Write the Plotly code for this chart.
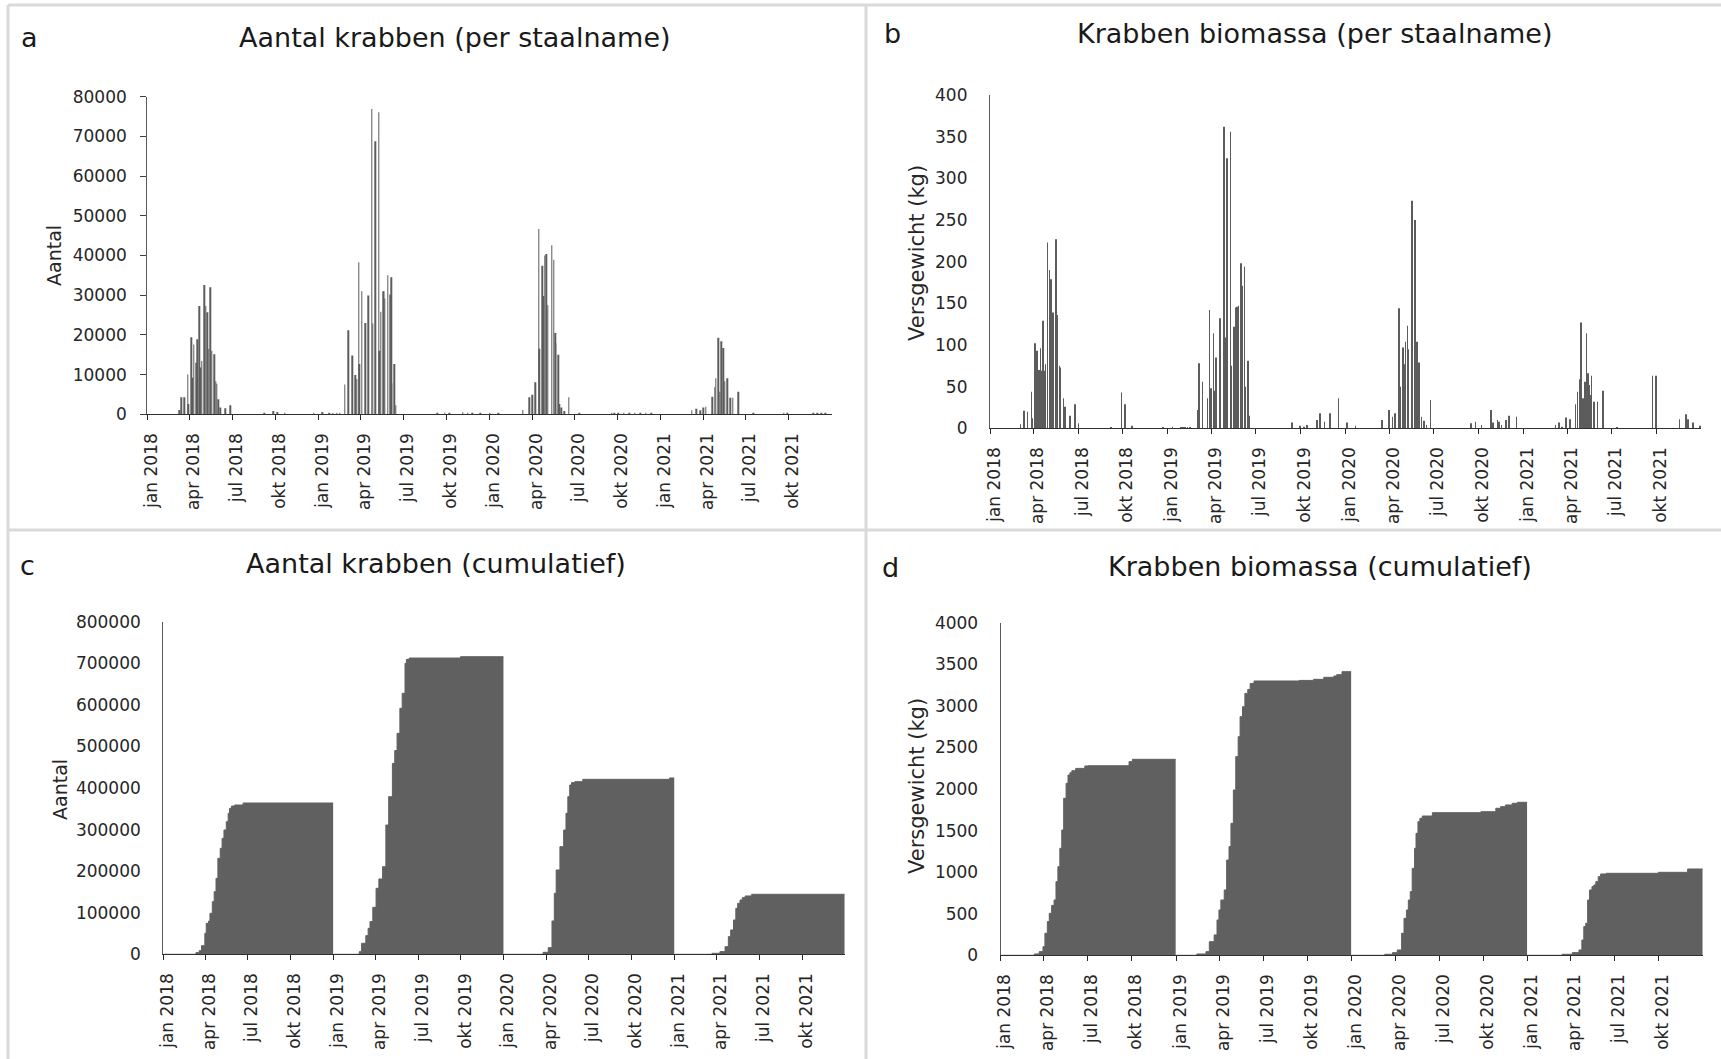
import plotly.graph_objects as go

# ---------------- data ----------------
TICK_DATES = ["2018-01-01", "2018-04-01", "2018-07-01", "2018-10-01",
              "2019-01-01", "2019-04-01", "2019-07-01", "2019-10-01",
              "2020-01-01", "2020-04-01", "2020-07-01", "2020-10-01",
              "2021-01-01", "2021-04-01", "2021-07-01", "2021-10-01"]
TICK_LABELS = ["jan 2018", "apr 2018", "jul 2018", "okt 2018",
               "jan 2019", "apr 2019", "jul 2019", "okt 2019",
               "jan 2020", "apr 2020", "jul 2020", "okt 2020",
               "jan 2021", "apr 2021", "jul 2021", "okt 2021"]

# panel a: number of crabs per sampling
A_DATES = ["2018-03-10", "2018-03-14", "2018-03-21", "2018-03-28", "2018-03-30", "2018-04-05", "2018-04-07",
           "2018-04-10", "2018-04-15", "2018-04-18", "2018-04-22", "2018-04-24", "2018-04-27", "2018-05-02",
           "2018-05-06", "2018-05-09", "2018-05-12", "2018-05-16", "2018-05-19", "2018-05-24", "2018-05-27",
           "2018-05-29", "2018-06-01", "2018-06-06", "2018-06-17", "2018-06-27", "2018-09-08", "2018-09-27",
           "2018-10-06", "2018-10-21", "2018-12-22",
           "2019-01-10", "2019-01-24", "2019-02-01", "2019-02-09", "2019-02-16", "2019-02-26", "2019-03-06",
           "2019-03-14", "2019-03-21", "2019-03-24", "2019-03-28", "2019-03-30", "2019-04-04", "2019-04-11",
           "2019-04-17", "2019-04-25", "2019-04-27", "2019-05-02", "2019-05-10", "2019-05-11", "2019-05-14",
           "2019-05-19", "2019-05-21", "2019-05-23", "2019-05-29", "2019-06-03", "2019-06-06", "2019-06-07",
           "2019-06-12", "2019-06-15", "2019-09-12", "2019-09-28", "2019-10-08", "2019-11-05", "2019-11-16",
           "2019-11-26", "2019-12-12",
           "2020-01-02", "2020-01-20", "2020-03-12", "2020-03-26", "2020-04-02", "2020-04-08", "2020-04-15",
           "2020-04-17", "2020-04-23", "2020-04-25", "2020-04-28", "2020-05-02", "2020-05-05", "2020-05-13",
           "2020-05-17", "2020-05-20", "2020-05-22", "2020-05-27", "2020-05-29", "2020-06-03", "2020-06-09",
           "2020-06-18", "2020-07-11", "2020-09-18", "2020-09-23", "2020-10-02", "2020-10-14", "2020-10-25",
           "2020-11-06", "2020-11-18", "2020-11-30", "2020-12-12",
           "2021-03-08", "2021-03-17", "2021-03-26", "2021-04-01", "2021-04-07", "2021-04-20", "2021-04-26",
           "2021-04-28", "2021-05-03", "2021-05-07", "2021-05-10", "2021-05-14", "2021-05-17", "2021-05-22",
           "2021-05-29", "2021-06-03", "2021-06-15", "2021-07-17", "2021-09-20", "2021-09-27", "2021-11-22",
           "2021-11-30", "2021-12-09", "2021-12-18"]
A_COUNTS = [1100, 4300, 4300, 10000, 2600, 19400, 9200,
            17600, 13000, 18900, 27300, 11800, 13400, 32600,
            27300, 25700, 16500, 32000, 16000, 15100, 8300,
            7700, 3800, 1700, 1500, 2300, 300, 800,
            600, 200, 300,
            600, 400, 400, 400, 400, 7500, 21200,
            14800, 9900, 8900, 38300, 12700, 31000, 23000,
            29900, 76900, 22900, 68800, 76100, 16000, 25800,
            31000, 31000, 29200, 35000, 30200, 34500, 7800,
            12700, 2300, 200, 200, 300, 500, 300,
            300, 300,
            300, 300, 1100, 4300, 4900, 8100, 46700,
            16500, 37400, 29800, 40000, 40400, 27500, 42600,
            38900, 20500, 17900, 15000, 2600, 1700, 800,
            4300, 200, 300, 300, 400, 400, 400,
            400, 300, 300, 200,
            1000, 1400, 1000, 1700, 1900, 4400, 6800,
            9100, 19300, 5700, 18400, 16700, 8300, 9100,
            4200, 4200, 5700, 300, 300, 300, 300,
            300, 300, 300]

# panel b: crab biomass per sampling (kg)
B_DATES = ["2018-03-05", "2018-03-12", "2018-03-19", "2018-03-27", "2018-03-29", "2018-04-03", "2018-04-05",
           "2018-04-07", "2018-04-12", "2018-04-15", "2018-04-17", "2018-04-20", "2018-04-22", "2018-04-25",
           "2018-04-29", "2018-05-03", "2018-05-06", "2018-05-09", "2018-05-11", "2018-05-16", "2018-05-17",
           "2018-05-20", "2018-05-24", "2018-05-26", "2018-06-01", "2018-06-04", "2018-06-15", "2018-06-25",
           "2018-07-02", "2018-09-07", "2018-09-28", "2018-10-06", "2018-10-20", "2018-12-23",
           "2019-01-11", "2019-01-28", "2019-02-02", "2019-02-06", "2019-02-11", "2019-02-16", "2019-03-03",
           "2019-03-07", "2019-03-14", "2019-03-24", "2019-03-28", "2019-03-31", "2019-04-05", "2019-04-07",
           "2019-04-11", "2019-04-18", "2019-04-27", "2019-04-29", "2019-05-03", "2019-05-10", "2019-05-12",
           "2019-05-17", "2019-05-21", "2019-05-24", "2019-05-27", "2019-06-01", "2019-06-03", "2019-06-08",
           "2019-06-10", "2019-06-15", "2019-06-17", "2019-09-14", "2019-09-30", "2019-10-08", "2019-10-14",
           "2019-11-04", "2019-11-10", "2019-11-19", "2019-12-01", "2019-12-18",
           "2020-01-05", "2020-01-22", "2020-03-17", "2020-03-31", "2020-04-07", "2020-04-12", "2020-04-21",
           "2020-04-23", "2020-04-29", "2020-05-01", "2020-05-04", "2020-05-08", "2020-05-10", "2020-05-17",
           "2020-05-23", "2020-05-25", "2020-05-28", "2020-05-31", "2020-06-06", "2020-06-11", "2020-06-16",
           "2020-06-24", "2020-09-16", "2020-09-25", "2020-10-07", "2020-10-26", "2020-10-31", "2020-11-09",
           "2020-11-12", "2020-11-17", "2020-11-26", "2020-12-03", "2020-12-18",
           "2021-03-08", "2021-03-15", "2021-03-21", "2021-03-29", "2021-04-07", "2021-04-18", "2021-04-22",
           "2021-04-27", "2021-04-29", "2021-05-03", "2021-05-08", "2021-05-11", "2021-05-14", "2021-05-17",
           "2021-05-19", "2021-05-21", "2021-05-26", "2021-06-02", "2021-06-13", "2021-07-13", "2021-09-23",
           "2021-10-01", "2021-11-18", "2021-12-01", "2021-12-05", "2021-12-15", "2021-12-30"]
B_KG = [5, 21, 20, 44, 12, 102, 48,
        93, 70, 96, 69, 129, 69, 77,
        223, 190, 179, 113, 139, 227, 145,
        136, 75, 73, 36, 26, 15, 29,
        6, 1, 43, 29, 3, 1,
        2, 1, 1, 1, 1, 1, 22,
        78, 56, 36, 142, 48, 114, 45,
        85, 132, 362, 109, 324, 356, 75,
        122, 145, 146, 147, 198, 171, 194,
        50, 81, 15, 7, 3, 2, 4,
        10, 18, 8, 18, 36,
        7, 3, 10, 22, 14, 18, 144,
        50, 97, 77, 104, 123, 95, 273,
        250, 90, 104, 79, 14, 9, 4,
        34, 6, 8, 4, 22, 7, 10,
        8, 4, 10, 15, 14,
        4, 7, 2, 13, 11, 29, 44,
        59, 127, 36, 56, 114, 66, 52,
        40, 63, 32, 32, 45, 1, 63,
        63, 11, 17, 11, 7, 3]

# panel c: cumulative number of crabs (per year)
C_DATES = ["2018-03-12", "2018-03-19", "2018-03-24", "2018-03-31", "2018-04-03", "2018-04-08", "2018-04-11",
           "2018-04-16", "2018-04-20", "2018-04-24", "2018-04-28", "2018-05-03", "2018-05-07", "2018-05-11",
           "2018-05-16", "2018-05-20", "2018-05-23", "2018-05-27", "2018-06-03", "2018-06-21",
           "2019-02-25", "2019-03-02", "2019-03-11", "2019-03-16", "2019-03-20", "2019-03-26", "2019-04-02",
           "2019-04-08", "2019-04-16", "2019-04-23", "2019-04-29", "2019-05-07", "2019-05-12", "2019-05-17",
           "2019-05-23", "2019-05-28", "2019-06-03", "2019-06-06", "2019-06-12", "2019-09-30",
           "2020-03-25", "2020-04-05", "2020-04-13", "2020-04-18", "2020-04-22", "2020-04-30", "2020-05-08",
           "2020-05-13", "2020-05-17", "2020-05-21", "2020-05-25", "2020-06-01", "2020-06-18", "2020-12-21",
           "2021-03-22", "2021-04-08", "2021-04-19", "2021-04-26", "2021-05-01", "2021-05-07", "2021-05-12",
           "2021-05-16", "2021-05-21", "2021-05-26", "2021-06-01", "2021-06-15"]
C_CUM = [4000, 8800, 20800, 50500, 74500, 80000, 98600,
         126600, 150700, 182800, 230900, 254900, 279000, 299000,
         319000, 339100, 351100, 356700, 359100, 363900,
         6400, 26500, 44900, 62500, 78600, 113000, 158700,
         181200, 210800, 311000, 379200, 459300, 490000, 531500,
         591600, 627700, 699800, 709400, 712600, 715800,
         4800, 16000, 80200, 146700, 202800, 258900, 299000,
         339100, 379200, 407200, 413000, 415200, 420800, 424100,
         2400, 6400, 18400, 42500, 58500, 82600, 110600,
         122600, 130700, 136300, 140300, 144300]

# panel d: cumulative crab biomass (kg, per year)
D_DATES = ["2018-03-12", "2018-03-22", "2018-03-30", "2018-04-03", "2018-04-08", "2018-04-12", "2018-04-17",
           "2018-04-22", "2018-04-26", "2018-04-30", "2018-05-04", "2018-05-08", "2018-05-12", "2018-05-17",
           "2018-05-21", "2018-05-25", "2018-05-29", "2018-06-06", "2018-06-25", "2018-07-02", "2018-09-25",
           "2018-10-02",
           "2019-02-13", "2019-03-04", "2019-03-11", "2019-03-21", "2019-03-27", "2019-03-31", "2019-04-04",
           "2019-04-11", "2019-04-16", "2019-04-21", "2019-04-25", "2019-04-30", "2019-05-05", "2019-05-10",
           "2019-05-14", "2019-05-19", "2019-05-24", "2019-05-30", "2019-06-04", "2019-06-12", "2019-09-14",
           "2019-10-14", "2019-11-04", "2019-11-25", "2019-12-01", "2019-12-12",
           "2020-03-10", "2020-03-26", "2020-04-05", "2020-04-14", "2020-04-19", "2020-04-24", "2020-04-28",
           "2020-05-02", "2020-05-06", "2020-05-11", "2020-05-14", "2020-05-18", "2020-05-22", "2020-05-27",
           "2020-06-17", "2020-09-26", "2020-10-27", "2020-11-06", "2020-11-16", "2020-11-30", "2020-12-11",
           "2021-03-14", "2021-04-04", "2021-04-18", "2021-04-24", "2021-04-28", "2021-05-02", "2021-05-06",
           "2021-05-10", "2021-05-15", "2021-05-19", "2021-05-23", "2021-05-28", "2021-06-02", "2021-06-14",
           "2021-09-30", "2021-11-30"]
D_CUM = [16, 44, 104, 265, 405, 505, 600,
         665, 886, 1066, 1287, 1507, 1888, 2068,
         2168, 2196, 2220, 2248, 2277, 2280, 2329,
         2357,
         16, 44, 164, 245, 425, 545, 665,
         786, 1146, 1307, 1587, 1988, 2389, 2629,
         2870, 2990, 3150, 3198, 3270, 3299, 3306,
         3319, 3343, 3359, 3375, 3411,
         12, 32, 64, 265, 445, 545, 665,
         766, 1046, 1287, 1467, 1607, 1647, 1675,
         1715, 1727, 1768, 1788, 1808, 1828, 1840,
         12, 32, 64, 184, 345, 385, 665,
         786, 826, 846, 886, 946, 978, 986,
         998, 1038]

# ---------------- styling ----------------
W, H = 1721, 1059
FONT = "DejaVu Sans"
BAR_COLOR = "#5c5c5c"
FILL_COLOR = "#606060"
AXIS_COLOR = "#404040"
TEXT_COLOR = "#262626"
BORDER = "#dadada"
DAY_MS = 86400000


def px_x(a, b):
    return [a / W, b / W]


def px_y(top, bottom):
    return [1 - bottom / H, 1 - top / H]


fig = go.Figure()

# per-sampling bars
fig.add_trace(go.Bar(x=A_DATES, y=A_COUNTS, width=1.3 * DAY_MS, marker=dict(color=BAR_COLOR, line=dict(width=0)),
                     xaxis="x", yaxis="y", hoverinfo="x+y"))
fig.add_trace(go.Bar(x=B_DATES, y=B_KG, width=1.3 * DAY_MS, marker=dict(color=BAR_COLOR, line=dict(width=0)),
                     xaxis="x2", yaxis="y2", hoverinfo="x+y"))


def add_cumulative(dates, values, xa, ya):
    years = sorted(set(d[:4] for d in dates))
    for yr in years:
        xs = [d for d in dates if d[:4] == yr]
        vs = [v for d, v in zip(dates, values) if d[:4] == yr]
        fig.add_trace(go.Scatter(
            x=[yr + "-01-01"] + xs + [yr + "-12-31"],
            y=[0] + vs + [vs[-1]],
            mode="lines", line=dict(shape="hv", color=FILL_COLOR, width=1),
            fill="tozeroy", fillcolor=FILL_COLOR,
            xaxis=xa, yaxis=ya, hoverinfo="x+y"))


add_cumulative(C_DATES, C_CUM, "x3", "y3")
add_cumulative(D_DATES, D_CUM, "x4", "y4")

xcommon = dict(type="date", range=["2018-01-01", "2022-01-01"], tickmode="array",
               tickvals=TICK_DATES, ticktext=TICK_LABELS, tickangle=-90,
               ticks="outside", ticklen=5, tickwidth=1, tickcolor="#262626",
               showline=True, linecolor="#303030", linewidth=1.2,
               showgrid=False, zeroline=False, ticklabelstandoff=6, ticklabelshift=4,
               automargin=False,
               tickfont=dict(family=FONT, size=17, color=TEXT_COLOR), fixedrange=True)
ycommon = dict(showline=True, linecolor="#5a5a5a", linewidth=1.2, showgrid=False, zeroline=False,
               tickfont=dict(family=FONT, size=17, color=TEXT_COLOR), tickmode="linear",
               tickformat="d", automargin=False, fixedrange=True)

fig.update_layout(
    width=W, height=H, margin=dict(l=0, r=0, t=0, b=0, autoexpand=False),
    paper_bgcolor="white", plot_bgcolor="white", showlegend=False, barmode="overlay",
    xaxis=dict(xcommon, domain=px_x(147.3, 832), anchor="y"),
    yaxis=dict(ycommon, domain=px_y(96.7, 414.3), anchor="x", range=[0, 80000], dtick=10000,
               ticks="outside", ticklen=6, tickcolor=AXIS_COLOR, ticklabelstandoff=10),
    xaxis2=dict(xcommon, domain=px_x(990, 1701), anchor="y2"),
    yaxis2=dict(ycommon, domain=px_y(95, 428.3), anchor="x2", range=[0, 400], dtick=50,
                ticks="", ticklabelstandoff=18),
    xaxis3=dict(xcommon, domain=px_x(163.3, 845), anchor="y3"),
    yaxis3=dict(ycommon, domain=px_y(621.7, 954.3), anchor="x3", range=[0, 800000], dtick=100000,
                ticks="", ticklabelstandoff=18),
    xaxis4=dict(xcommon, domain=px_x(1000.7, 1703), anchor="y4"),
    yaxis4=dict(ycommon, domain=px_y(622.7, 955.3), anchor="x4", range=[0, 4000], dtick=500,
                ticks="", ticklabelstandoff=18),
)

# titles, panel letters, axis titles
texts = [
    ("Aantal krabben (per staalname)", 455, 37, 27, 0),
    ("Krabben biomassa (per staalname)", 1315, 34, 27, 0),
    ("Aantal krabben (cumulatief)", 436, 563, 27, 0),
    ("Krabben biomassa (cumulatief)", 1320, 566, 27, 0),
    ("a", 29, 37, 27, 0), ("b", 893, 34, 27, 0), ("c", 27, 565, 27, 0), ("d", 890, 567, 27, 0),
    ("Aantal", 54, 256, 19, -90), ("Versgewicht (kg)", 917, 253, 21, -90),
    ("Aantal", 60, 790, 19, -90), ("Versgewicht (kg)", 917, 786, 21, -90),
]
for t, x, y, s, ang in texts:
    fig.add_annotation(text=t, x=x / W, y=1 - y / H, xref="paper", yref="paper",
                       xanchor="center", yanchor="middle", showarrow=False, textangle=ang,
                       font=dict(family=FONT, size=s, color="#1a1a1a" if s > 22 else TEXT_COLOR))

# panel borders
lines = [
    (8, 5, W, 5),
    (8, 5, 8, H), (866, 5, 866, H),
    (8, 530, W, 530),
]
for x0, y0, x1, y1 in lines:
    fig.add_shape(type="line", xref="paper", yref="paper",
                  x0=x0 / W, x1=x1 / W, y0=1 - y0 / H, y1=1 - y1 / H,
                  line=dict(color=BORDER, width=3), layer="below")

fig.write_html("out.html")
